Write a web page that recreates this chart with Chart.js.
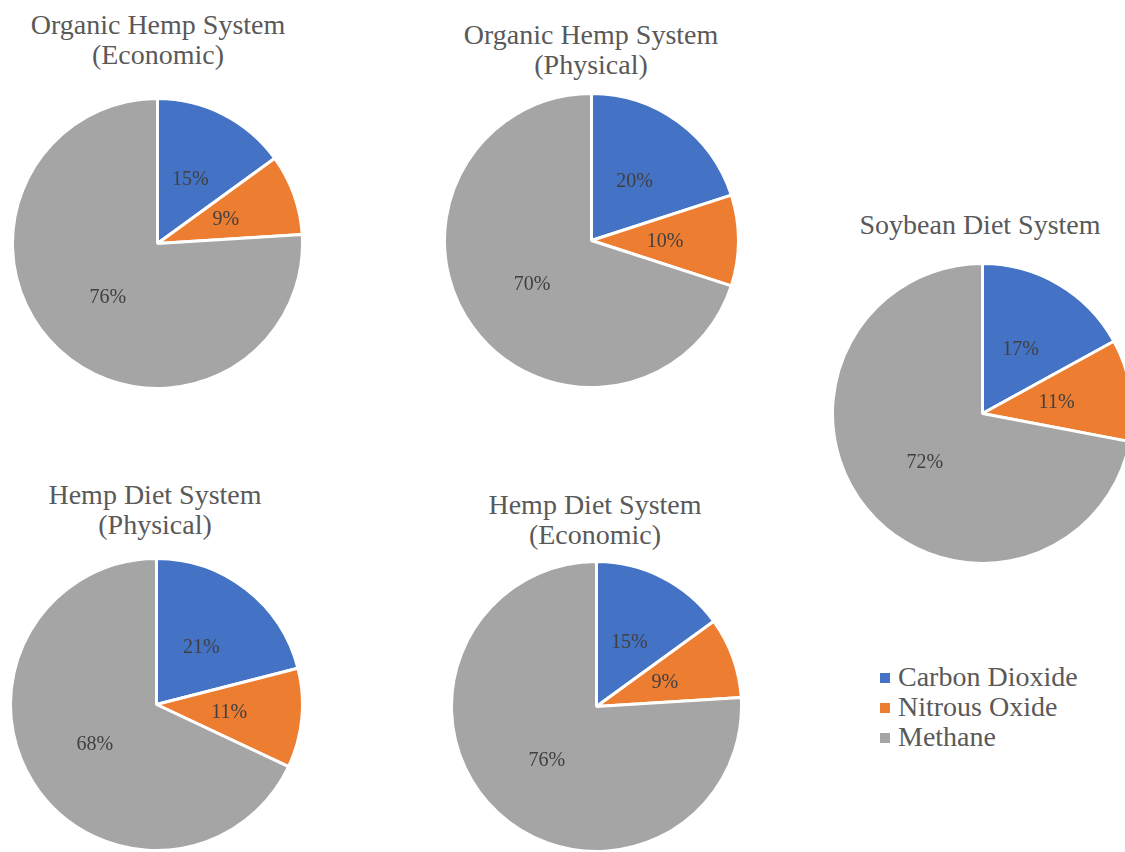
<!DOCTYPE html>
<html>
<head>
<meta charset="utf-8">
<title>Greenhouse gas share by system</title>
<script src="https://cdn.jsdelivr.net/npm/chart.js@4.4.1/dist/chart.umd.min.js"></script>
<style>
  html, body { margin: 0; padding: 0; width: 1125px; height: 852px; overflow: hidden; background: #fff; }
  .pie { position: absolute; }
  .title {
    position: absolute; width: 340px; text-align: center; white-space: pre-line;
    font-family: 'Liberation Serif', 'Times New Roman', serif; font-size: 28px; line-height: 30px; color: #595959;
  }
  #legend {
    position: absolute; left: 880px; top: 662px; margin: 0; padding: 0; list-style: none;
    font-family: 'Liberation Serif', 'Times New Roman', serif; font-size: 28px; line-height: 30px; color: #595959;
  }
  #legend li { display: flex; align-items: center; }
  #legend span.box { width: 10px; height: 10px; margin-right: 8px; margin-top: 2px; }
</style>
</head>
<body>
<ul id="legend"></ul>
<script>
const gases = ['Carbon Dioxide', 'Nitrous Oxide', 'Methane'];
const gasColors = ['#4472C4', '#ED7D31', '#A5A5A5'];

const systemTitles = [
  'Organic Hemp System\n(Economic)',
  'Organic Hemp System\n(Physical)',
  'Soybean Diet System',
  'Hemp Diet System\n(Physical)',
  'Hemp Diet System\n(Economic)'
];

// share of emissions (%) in gas order: CO2, N2O, CH4
const organicHempEconomic = [15, 9, 76];
const organicHempPhysical = [20, 10, 70];
const soybeanDiet = [17, 11, 72];
const hempDietPhysical = [21, 11, 68];
const hempDietEconomic = [15, 9, 76];

const systemShares = [organicHempEconomic, organicHempPhysical, soybeanDiet, hempDietPhysical, hempDietEconomic];

// where each pie sits on the page: centre, radius, title top and title centre x
const panels = [
  { cx: 157, cy: 243, r: 145, titleTop: 10, titleX: 158 },
  { cx: 591, cy: 240, r: 147, titleTop: 20, titleX: 591 },
  { cx: 982, cy: 413, r: 150, titleTop: 210, titleX: 980 },
  { cx: 156, cy: 704, r: 146, titleTop: 480, titleX: 155 },
  { cx: 596, cy: 706, r: 145, titleTop: 490, titleX: 595 }
];

const BORDER = 3;

// percent labels at each slice's centroid
const sliceLabels = {
  id: 'sliceLabels',
  afterDatasetsDraw(chart) {
    const { ctx } = chart;
    const values = chart.data.datasets[0].data;
    ctx.save();
    ctx.font = '20px "Liberation Serif", "Times New Roman", serif';
    ctx.fillStyle = '#404040';
    ctx.textAlign = 'center';
    ctx.textBaseline = 'middle';
    chart.getDatasetMeta(0).data.forEach((arc, i) => {
      const p = arc.tooltipPosition(true);
      ctx.fillText(`${values[i]}%`, p.x, p.y + 1);
    });
    ctx.restore();
  }
};

panels.forEach((panel, idx) => {
  const size = panel.r * 2 + BORDER;

  const title = document.createElement('div');
  title.className = 'title';
  title.textContent = systemTitles[idx];
  title.style.left = `${panel.titleX - 170}px`;
  title.style.top = `${panel.titleTop}px`;
  document.body.appendChild(title);

  const canvas = document.createElement('canvas');
  canvas.className = 'pie';
  canvas.width = size;
  canvas.height = size;
  canvas.style.left = `${panel.cx - size / 2}px`;
  canvas.style.top = `${panel.cy - size / 2}px`;
  document.body.appendChild(canvas);

  new Chart(canvas, {
    type: 'pie',
    data: {
      labels: gases,
      datasets: [{
        data: systemShares[idx],
        backgroundColor: gasColors,
        borderColor: '#ffffff',
        borderWidth: BORDER
      }]
    },
    options: {
      responsive: false,
      animation: false,
      layout: { padding: 0 },
      plugins: {
        legend: { display: false },
        tooltip: { enabled: false }
      }
    },
    plugins: [sliceLabels]
  });
});

const legendList = document.getElementById('legend');
gases.forEach((gas, i) => {
  const li = document.createElement('li');
  const box = document.createElement('span');
  box.className = 'box';
  box.style.background = gasColors[i];
  li.appendChild(box);
  li.appendChild(document.createTextNode(gas));
  legendList.appendChild(li);
});
</script>
</body>
</html>
